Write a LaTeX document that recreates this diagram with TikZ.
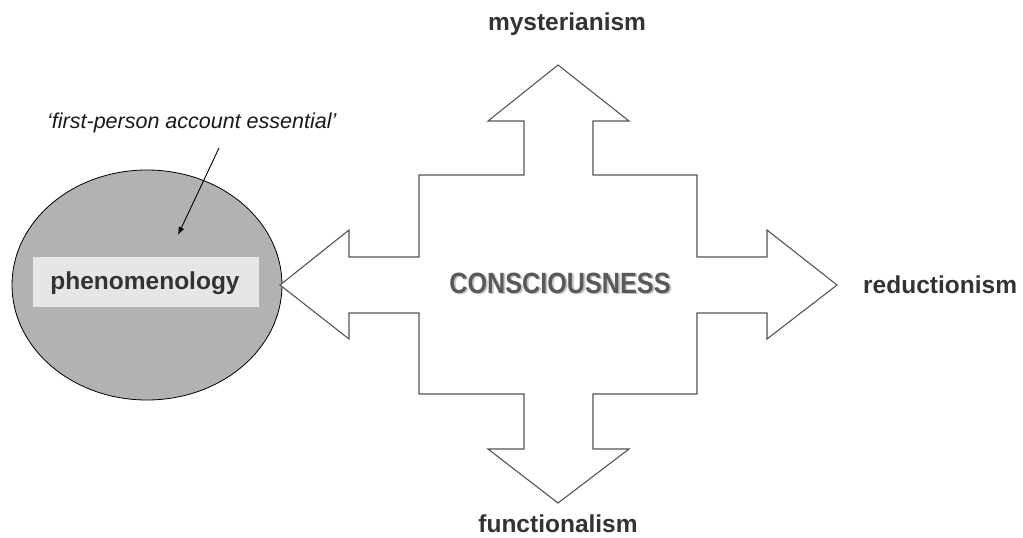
\documentclass[tikz,border=0pt]{standalone}
\usepackage{fontspec}
\usepackage{graphicx}
\setmainfont{Liberation Sans}
\usetikzlibrary{arrows.meta,shapes.geometric}
\definecolor{labelgray}{HTML}{333333}
\definecolor{linegray}{HTML}{555555}
\definecolor{ellgray}{HTML}{B2B2B2}
\definecolor{boxgray}{HTML}{E6E6E6}
\definecolor{coregray}{HTML}{595959}
\tikzset{
  bigtext/.style={font=\fontsize{24.5}{29}\selectfont\bfseries, text=labelgray, inner sep=0pt},
  crossline/.style={draw=linegray, line width=1.1pt, fill=white, line join=miter},
}
\begin{document}
\begin{tikzpicture}[x=1pt,y=-1pt]
\useasboundingbox (0,0) rectangle (1023,538);
% ellipse
\node (ell) [ellipse, draw=black, line width=0.8pt, fill=ellgray, minimum width=270, minimum height=230, inner sep=0pt] at (147,285) {};
\node (phen) [rectangle, fill=boxgray, minimum width=226, minimum height=50, inner sep=0pt] at (146,282) {};
\node (phentext) [bigtext, anchor=base] at (145,289) {phenomenology};
% cross arrow
\path[crossline] (558,65) -- (629,121) -- (593,121) -- (593,175) -- (697,175) -- (697,257)
  -- (767,257) -- (767,230) -- (837,285) -- (767,339) -- (767,313) -- (697,313)
  -- (697,394) -- (593,394) -- (593,449) -- (629,449) -- (558,503) -- (488,449)
  -- (524,449) -- (524,394) -- (419,394) -- (419,313) -- (349,313) -- (349,339)
  -- (280,285) -- (349,230) -- (349,257) -- (419,257) -- (419,175) -- (524,175)
  -- (524,121) -- (488,121) -- cycle;
% centre text with shadow
\node (coreshadow) [anchor=base, inner sep=0pt, text=gray!45] at (561.8,294.8)
  {\scalebox{0.86}[1]{\fontsize{29.3}{34}\selectfont\bfseries CONSCIOUSNESS}};
\node (core) [anchor=base, inner sep=0pt, text=coregray] at (560,293)
  {\scalebox{0.86}[1]{\fontsize{29.3}{34}\selectfont\bfseries CONSCIOUSNESS}};
% labels
\node (myst) [bigtext, anchor=base] at (567,30) {mysterianism};
\node (func) [bigtext, anchor=base] at (558,532) {functionalism};
\node (redu) [bigtext, anchor=base west] at (863,293) {reductionism};
\node (fpa) [anchor=base west, inner sep=0pt, font=\fontsize{21.5}{25}\selectfont\itshape, text=black!90] at (47,128) {‘first-person account essential’};
\coordinate (arrstart) at (219,148);
\coordinate (arrend) at (178,235);
\draw[-{Latex[length=8pt,width=6pt]}, line width=0.9pt, black] (arrstart) -- (arrend);
\end{tikzpicture}
\end{document}
